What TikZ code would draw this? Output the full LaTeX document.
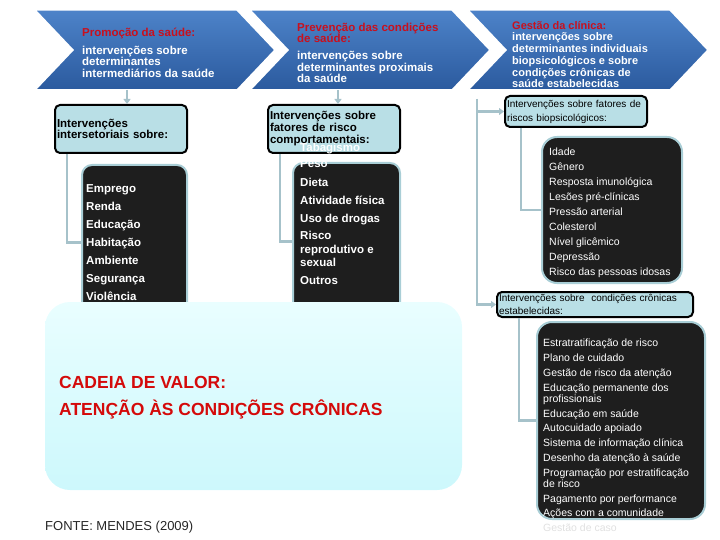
\documentclass[tikz,border=0pt]{standalone}
\usepackage{fontspec}
\setmainfont{Liberation Sans}
\usepackage{tikz}
\usetikzlibrary{positioning,arrows.meta,shapes.symbols}
\definecolor{chevtop}{HTML}{4D83C9}
\definecolor{chevbot}{HTML}{2B5A9E}
\definecolor{chevred}{HTML}{C8101E}
\definecolor{headfill}{HTML}{B9DFE6}
\definecolor{linkgray}{HTML}{A6C2CA}
\definecolor{listfill}{HTML}{1E1E1E}
\definecolor{listedge}{HTML}{A9CED6}
\definecolor{valuered}{HTML}{D40A0A}
\definecolor{valuetop}{HTML}{E9FEFF}
\definecolor{valuebot}{HTML}{CDF8FC}

\begin{document}
\begin{tikzpicture}[x=1pt, y=-1pt,
    chevron/.style={signal, signal from=west, signal to=east, signal pointer angle=93, minimum width=240, minimum height=80, inner sep=0pt, draw=white, line width=1.5pt, top color=chevtop, bottom color=chevbot},
    chevtext/.style={anchor=north west, inner sep=0pt, align=left, font=\fontsize{11.5}{11.5}\selectfont\bfseries, text=white},
    headbox/.style={draw=black, line width=2pt, rounded corners=5pt, fill=headfill, inner xsep=2pt, inner ysep=0pt, align=left},
    listbg/.style={draw=listedge, line width=2pt, rounded corners=10pt, fill=listfill, inner sep=0pt},
    listtext/.style={anchor=north west, inner sep=0pt, align=left, text=white},
    link/.style={draw=linkgray, line width=2.5pt},
    arrow/.style={link, -{Triangle[length=5pt, width=7pt]}}
]
\useasboundingbox (0,0) rectangle (720,540);

% chevrons
\node[chevron] (promo) at (155,50) {};
\node[chevron] (prev) at (370,50) {};
\node[chevron] (gest) at (588,50) {};

\node[chevtext] (promotxt) at (82,27.5) {\textcolor{chevred}{Promoção da saúde:}\\[6.5pt]
  intervenções sobre\\ determinantes\\ intermediários da saúde};
\node[chevtext] (prevtxt) at (297,22.5) {\textcolor{chevred}{Prevenção das condições}\\ \textcolor{chevred}{de saúde:}\\[5.5pt]
  intervenções sobre\\ determinantes proximais\\ da saúde};
\node[chevtext, font=\fontsize{11}{11.7}\selectfont\bfseries] (gesttxt) at (512,21) {\textcolor{chevred}{Gestão da clínica:}\\
  intervenções sobre\\ determinantes individuais\\ biopsicológicos e sobre\\ condições crônicas de\\ saúde estabelecidas};

% dark lists
\node[listbg, minimum width=105, minimum height=155] (interbg) at (134.5,242.5) {};
\node[listbg, minimum width=107, minimum height=157] (behavbg) at (346.5,241.5) {};
\node[listbg, rounded corners=15pt, minimum width=140, minimum height=146] (biobg) at (612,210) {};
\node[listbg, rounded corners=15pt, minimum width=168, minimum height=197] (chronbg) at (621,420.5) {};

% heading boxes
\node[headbox, text width=128, minimum height=48, font=\fontsize{11.5}{11.5}\selectfont\bfseries] (inter) at (121,129)
  {Intervenções\\ intersetoriais sobre:};
\node[headbox, text width=128, minimum height=48, font=\fontsize{11.5}{12}\selectfont\bfseries] (behav) at (334,129)
  {Intervenções sobre\\ fatores de risco\\ comportamentais:};
\node[headbox, text width=138, minimum height=31, font=\fontsize{10}{14}\selectfont] (riskbio) at (576,111.5)
  {Intervenções sobre fatores de\\ riscos biopsicológicos:};
\node[headbox, text width=192, minimum height=25, font=\fontsize{10}{12.5}\selectfont] (chronic) at (595,304.5)
  {Intervenções sobre \ condições crônicas\\ estabelecidas:};

% connectors
\coordinate (promo-out) at (127,90);
\coordinate (prev-out) at (338,90);
\coordinate (gest-out) at (477,99);
\draw[arrow] (promo-out) -- (promo-out |- inter.north);
\draw[arrow] (prev-out) -- (prev-out |- behav.north);
\draw[arrow] (gest-out) |- (riskbio.west);
\draw[arrow] (gest-out) |- (chronic.west);
\draw[link] ([xshift=13pt]inter.south west) |- (interbg.west);
\draw[link] ([xshift=13pt]behav.south west) |- (behavbg.west);
\draw[link] ([xshift=17pt]riskbio.south west) |- (biobg.west);
\draw[link] ([xshift=23pt]chronic.south west) |- (chronbg.west);

% list texts
\node[listtext, font=\fontsize{11.5}{13.5}\selectfont\bfseries] (interlist) at (86,184.5)
  {Emprego\\[4.5pt] Renda\\[4.5pt] Educação\\[4.5pt] Habitação\\[4.5pt] Ambiente\\[4.5pt] Segurança\\[4.5pt] Violência};
\node[listtext, font=\fontsize{11.5}{13.5}\selectfont\bfseries] (behavlist) at (300,142.5)
  {Tabagismo\\[3pt] Peso\\[5pt] Dieta\\[4.5pt] Atividade física\\[4.5pt] Uso de drogas\\[4pt]
   Risco\\ reprodutivo e\\ sexual\\[4.5pt] Outros};
\node[listtext, font=\fontsize{10.5}{15}\selectfont] (biolist) at (549,148)
  {Idade\\ Gênero\\ Resposta imunológica\\ Lesões pré-clínicas\\ Pressão arterial\\ Colesterol\\
   Nível glicêmico\\ Depressão\\ Risco das pessoas idosas};
\node[listtext, font=\fontsize{10.5}{11}\selectfont] (chronlist) at (543,339)
  {Estratratificação de risco\\[3.8pt] Plano de cuidado\\[3.8pt] Gestão de risco da atenção\\[3.8pt]
   Educação permanente dos\\ profissionais\\[3.8pt] Educação em saúde\\[3.8pt] Autocuidado apoiado\\[3.8pt]
   Sistema de informação clínica\\[3.8pt] Desenho da atenção à saúde\\[3.8pt]
   Programação por estratificação\\ de risco\\[3.8pt] Pagamento por performance\\[3.8pt]
   Ações com a comunidade\\[3.8pt] \textcolor{black!12}{Gestão de caso}};

% value chain box
\node[rounded corners=25pt, minimum width=417, minimum height=188, inner sep=0pt,
      top color=valuetop, bottom color=valuebot] (valuebox) at (253.5,396) {};
\node[anchor=north west, inner sep=0pt, align=left, text=valuered,
      font=\fontsize{17.5}{27}\selectfont\bfseries] (valuetxt) at (59,376.5)
  {CADEIA DE VALOR:\\ ATENÇÃO ÀS CONDIÇÕES CRÔNICAS};

\node[anchor=north west, inner sep=0pt, text=black!85, font=\fontsize{13}{13}\selectfont] (source) at (45,520.5)
  {FONTE: MENDES (2009)};

\end{tikzpicture}
\end{document}
